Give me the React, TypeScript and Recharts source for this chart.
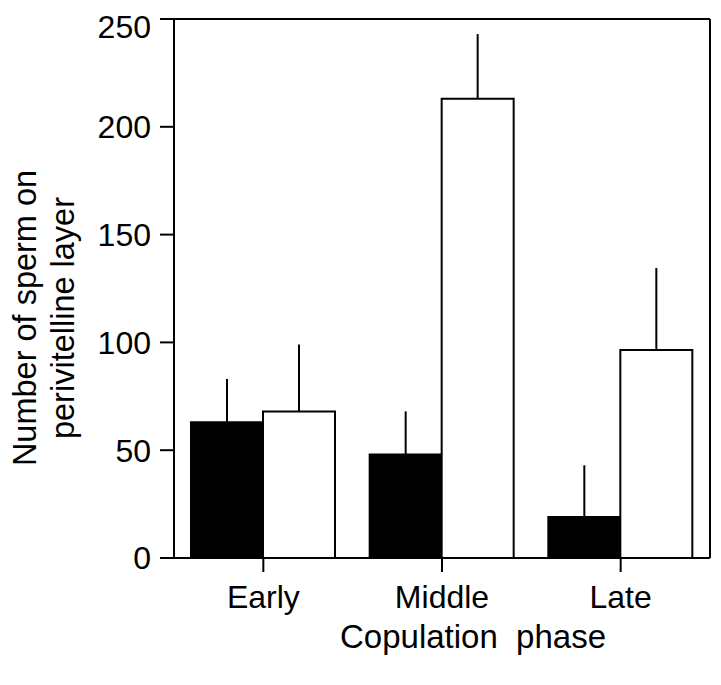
import React from 'react';
import {Bar, BarChart, ErrorBar, XAxis, YAxis} from 'recharts';

const phases = ['Early', 'Middle', 'Late'];
const filledMeans = [63, 48, 19];
const filledErrors = [20, 20, 24];
const openMeans = [68, 213, 96.5];
const openErrors = [31, 30, 38];
const yTicks = [0, 50, 100, 150, 200, 250];

const data = phases.map((phase, i) => ({
    phase,
    filled: filledMeans[i],
    filledErr: [0, filledErrors[i]],
    open: openMeans[i],
    openErr: [0, openErrors[i]],
}));

const FONT = '"Liberation Sans", Arial, sans-serif';

const YLabel = () => (
    <text
        transform="translate(36, 310) rotate(-90)"
        textAnchor="middle"
        fontFamily={FONT}
        fontSize={32.5}
        fill="#000"
    >
        <tspan x={0} dy={-8}>Number of sperm on</tspan>
        <tspan x={0} dy={38}>perivitelline layer</tspan>
    </text>
);

const XLabel = () => (
    <text
        x={332}
        y={640}
        fontFamily={FONT}
        fontSize={33}
        fill="#000"
        style={{whiteSpace: 'pre'}}
    >
        Copulation  phase
    </text>
);

const App = () => {
    const tickStyle = {fontFamily: FONT, fontSize: 32, fill: '#000'};
    return (
        <>
            <style>{'html, body { overflow: hidden; }'}</style>
            <BarChart
                width={713}
                height={662}
                data={data}
                margin={{top: 10, right: 10, bottom: 0, left: 0}}
                barGap={0}
                barSize={72}
            >
                <XAxis
                    dataKey="phase"
                    stroke="#000"
                    strokeWidth={2}
                    tickSize={14}
                    tickMargin={13}
                    tick={tickStyle}
                    height={112}
                    label={<XLabel/>}
                />
                <XAxis
                    xAxisId="top"
                    dataKey="phase"
                    orientation="top"
                    stroke="#000"
                    strokeWidth={2}
                    tick={false}
                    tickLine={false}
                    height={1}
                />
                <YAxis
                    domain={[0, 250]}
                    ticks={yTicks}
                    stroke="#000"
                    strokeWidth={2}
                    tickSize={14}
                    tickMargin={9}
                    tick={tickStyle}
                    width={166}
                    label={<YLabel/>}
                />
                <YAxis
                    yAxisId="right"
                    orientation="right"
                    domain={[0, 250]}
                    ticks={yTicks}
                    stroke="#000"
                    strokeWidth={2}
                    tick={false}
                    tickLine={false}
                    width={1}
                />
                <Bar dataKey="filled" fill="#000" stroke="#000" strokeWidth={2} isAnimationActive={false}>
                    <ErrorBar dataKey="filledErr" width={0} stroke="#000" strokeWidth={2} direction="y"/>
                </Bar>
                <Bar
                    dataKey="open"
                    yAxisId="right"
                    fill="#fff"
                    stroke="#000"
                    strokeWidth={2}
                    isAnimationActive={false}
                >
                    <ErrorBar dataKey="openErr" width={0} stroke="#000" strokeWidth={2} direction="y"/>
                </Bar>
            </BarChart>
        </>
    );
};

export default App;
